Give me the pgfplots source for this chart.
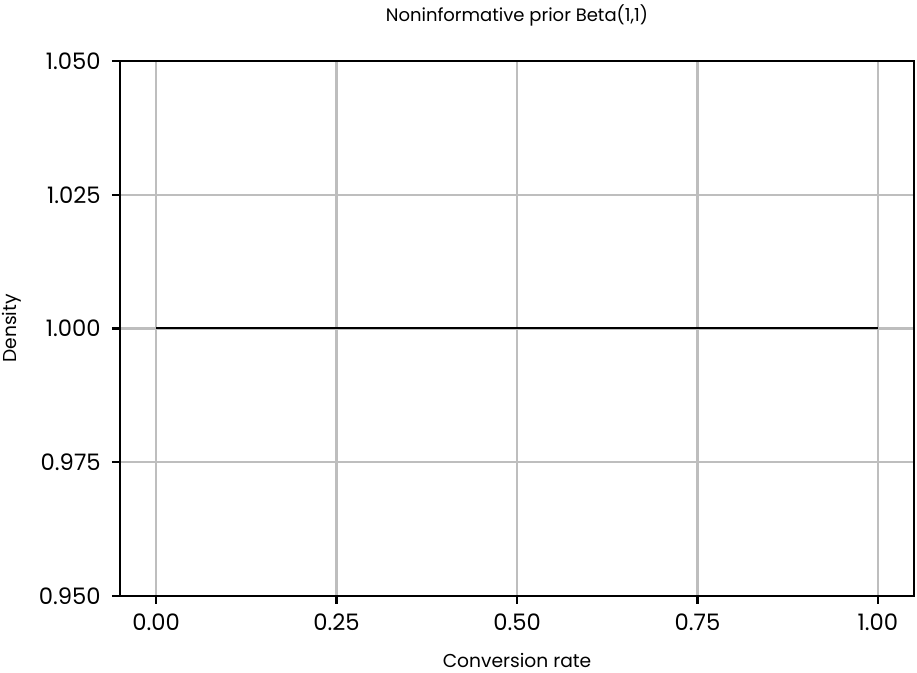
\documentclass[border=0pt]{standalone}
\usepackage{fontspec}
\setmainfont{Poppins}
\usepackage{pgfplots}
\pgfplotsset{compat=1.18}
\definecolor{gridgray}{RGB}{190,190,190}
\begin{document}
\begin{tikzpicture}
\begin{axis}[
  scale only axis,
  width=595.5pt, height=401.25pt,
  xmin=-0.05, xmax=1.05,
  ymin=0.95, ymax=1.05,
  xtick={0,0.25,0.5,0.75,1},
  ytick={0.95,0.975,1,1.025,1.05},
  xtick pos=bottom, ytick pos=left,
  ticklabel style={font=\fontsize{17}{19}\selectfont},
  xticklabel style={yshift=-4pt,/pgf/number format/.cd,fixed,fixed zerofill,precision=2},
  yticklabel style={xshift=-5pt,/pgf/number format/.cd,fixed,fixed zerofill,precision=3},
  /pgf/number format/assume math mode=true,
  xtick align=outside, ytick align=outside,
  major tick length=6pt,
  major tick style={draw=black, line width=1.6pt},
  axis line style={black, line width=1.5pt},
  grid=major,
  major grid style={gridgray, line width=1.7pt},
  xlabel={Conversion rate},
  ylabel={Density},
  label style={font=\fontsize{14}{16}\selectfont},
  xlabel style={at={(axis description cs:0.5,-0.1200)}, anchor=center},
  ylabel style={at={(axis description cs:-0.136,0.5)}, anchor=center},
  title={Noninformative prior Beta(1,1)},
  title style={font=\fontsize{13.5}{15}\selectfont, at={(axis description cs:0.5,1.071)}, anchor=center},
]
\coordinate (bl) at (rel axis cs:0,0);
\coordinate (xa) at (axis cs:0,0.95);
\coordinate (xb) at (axis cs:0.25,0.95);
\coordinate (xc) at (axis cs:0.5,0.95);
\coordinate (xd) at (axis cs:0.75,0.95);
\coordinate (xe) at (axis cs:1,0.95);
\coordinate (ya) at (axis cs:-0.05,0.95);
\coordinate (yb) at (axis cs:-0.05,0.975);
\coordinate (yc) at (axis cs:-0.05,1);
\coordinate (yd) at (axis cs:-0.05,1.025);
\coordinate (ye) at (axis cs:-0.05,1.05);
\addplot[black, line width=1.5pt] coordinates {(0,1) (0.25,1) (0.5,1) (0.75,1) (1,1)};
\end{axis}
\foreach \n in {xa,xb,xc,xd,xe} {\draw[black,line width=1.6pt] (\n) -- ++(0,-6pt);}
\foreach \n in {ya,yb,yc,yd,ye} {\draw[black,line width=1.6pt] (\n) -- ++(-6pt,0);}
\pgfresetboundingbox
\path (bl) ++(-90pt,-57.75pt) rectangle ++(687.75pt,504.75pt);
\end{tikzpicture}
\end{document}
